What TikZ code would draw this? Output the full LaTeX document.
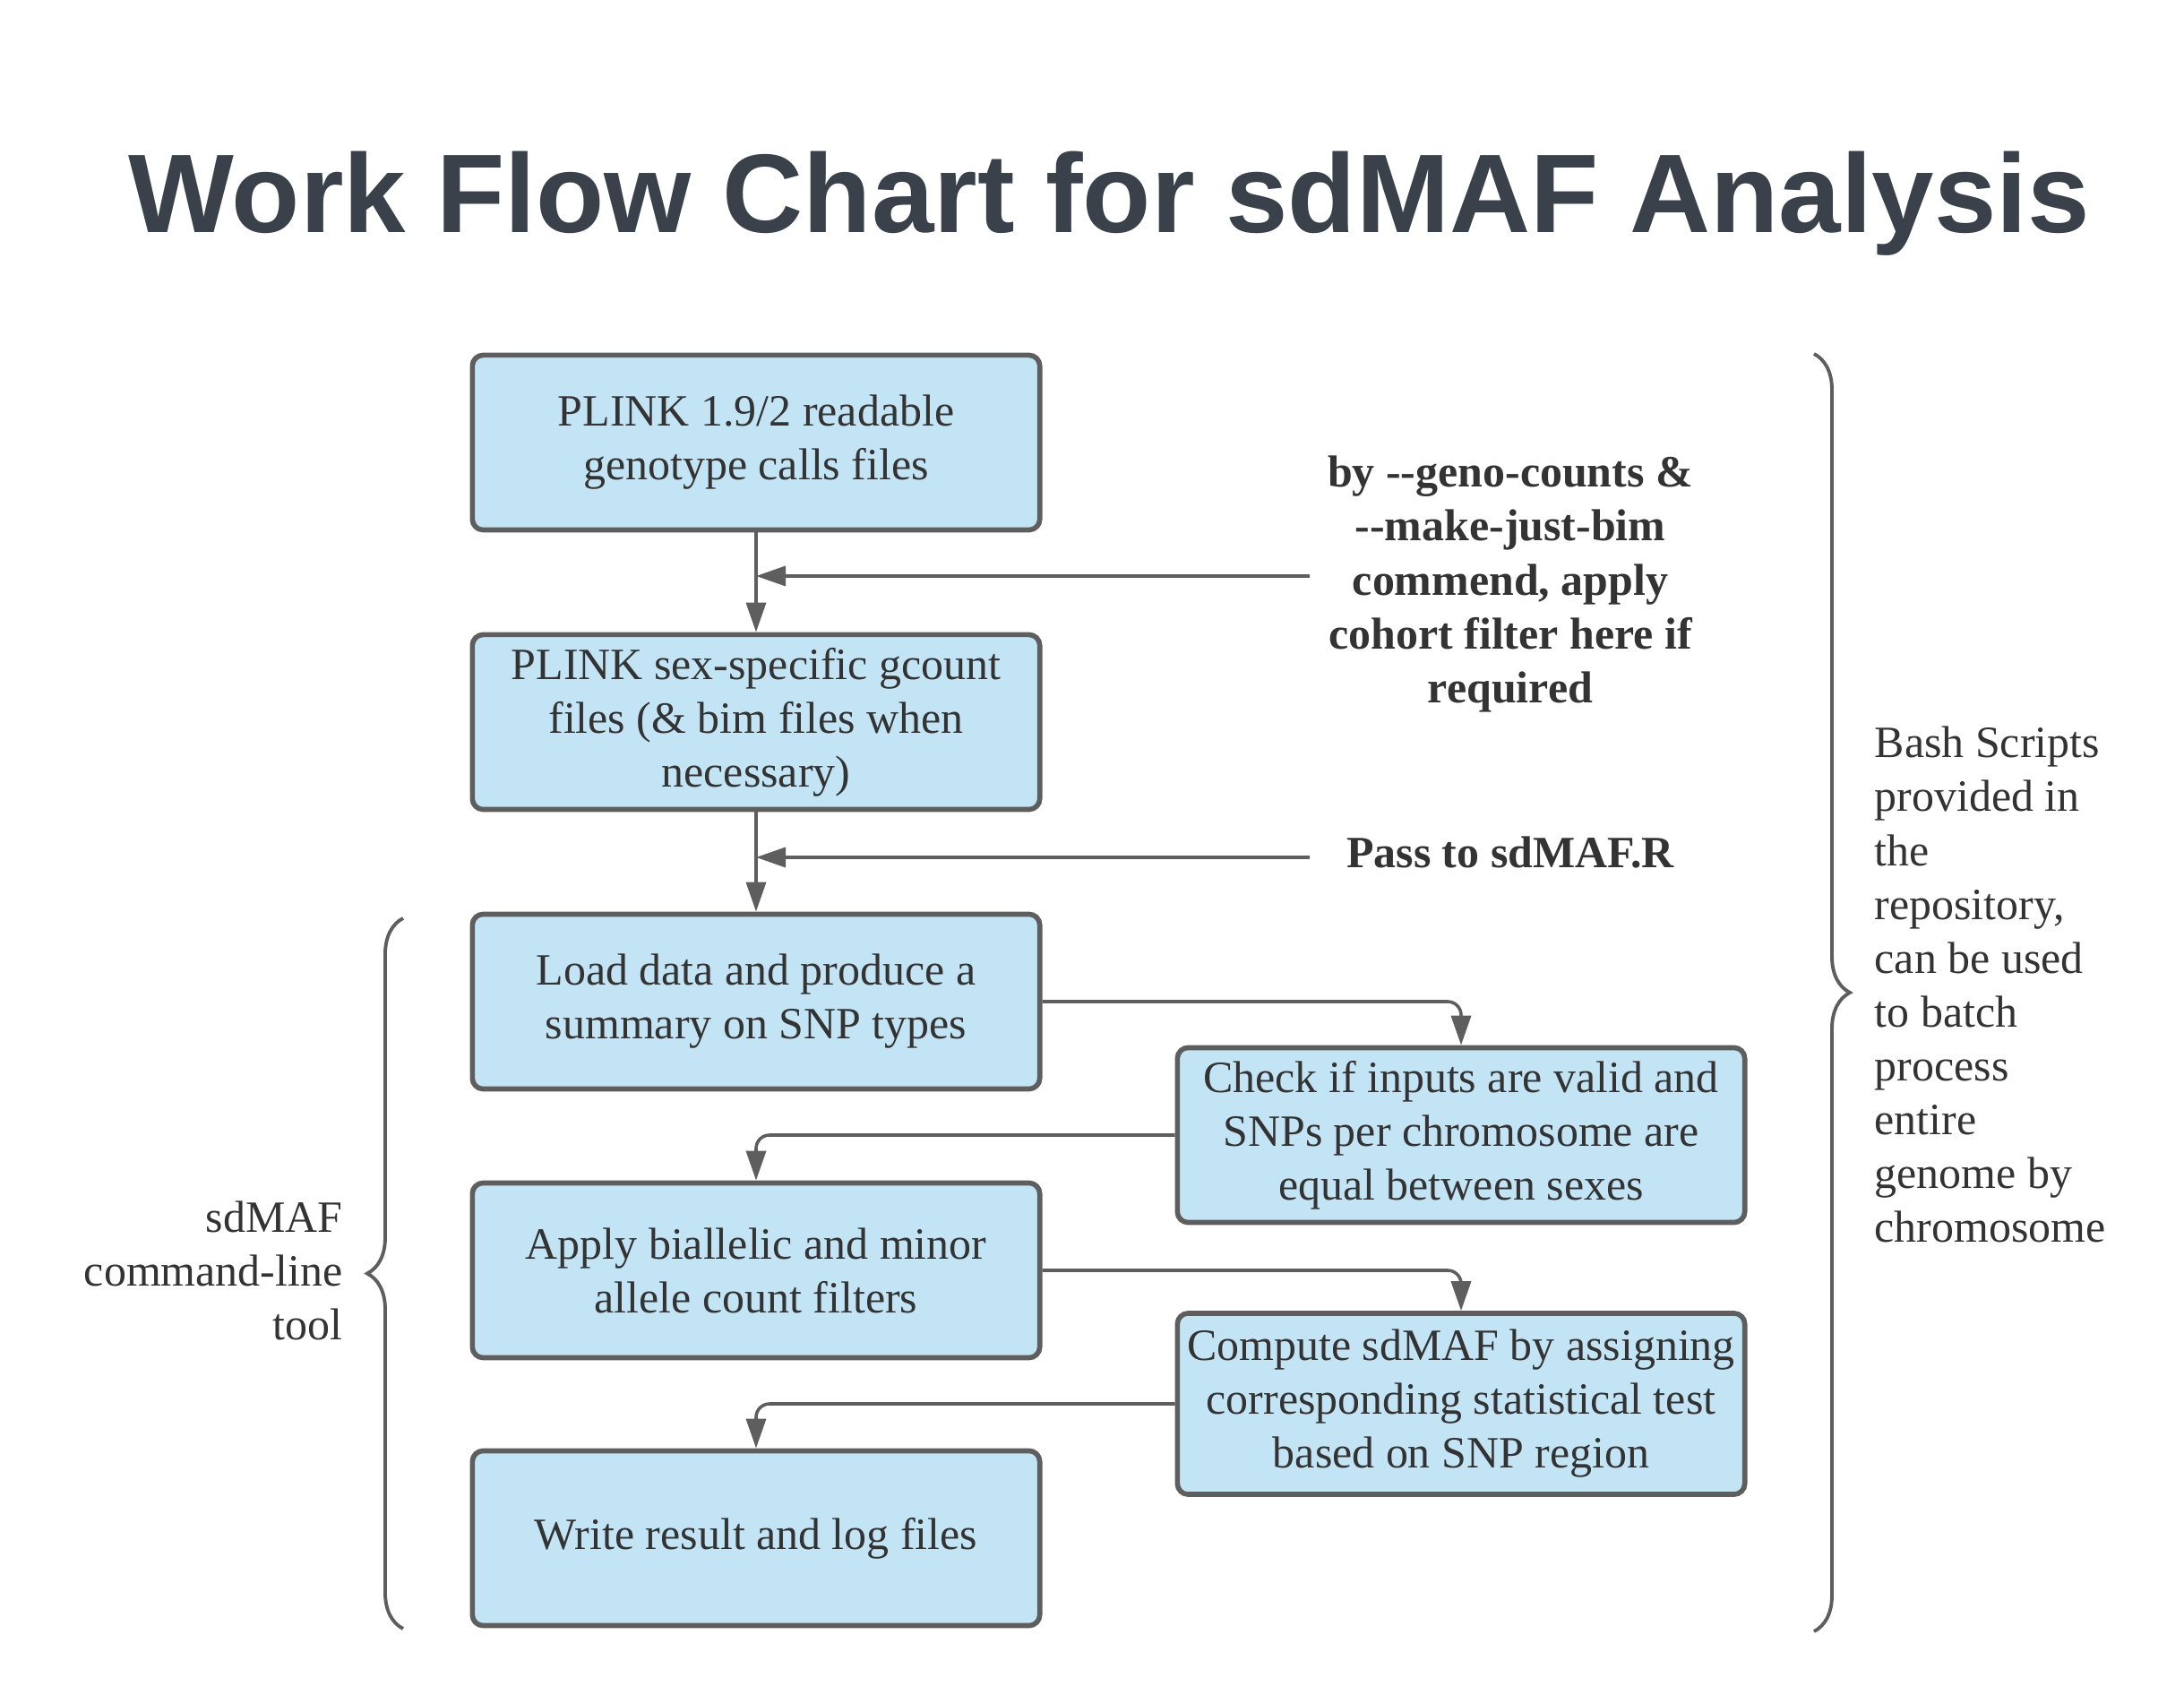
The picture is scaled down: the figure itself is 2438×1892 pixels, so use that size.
\documentclass[tikz,border=0pt]{standalone}
\usepackage{fontspec}
\setmainfont{Liberation Serif}
\newfontfamily\titlefont{Liberation Sans}
\usetikzlibrary{arrows.meta,decorations.pathreplacing}
\definecolor{boxblue}{RGB}{194,228,245}
\definecolor{edgegray}{RGB}{94,94,94}
\definecolor{inkgray}{RGB}{51,51,51}
\definecolor{titleslate}{RGB}{58,65,74}
\newcommand{\dblhy}{-\kern0pt-}

\begin{document}
\begin{tikzpicture}[x=0.01cm, y=-0.01cm,
    font=\fontsize{14.2}{17.07}\selectfont, text=inkgray,
    box/.style={draw=edgegray, line width=1.6pt, fill=boxblue, rounded corners=0.12cm,
      minimum width=6.33cm, minimum height=1.95cm, align=center, inner sep=0pt},
    conn/.style={draw=edgegray, line width=1pt, rounded corners=0.15cm,
      -{Triangle[length=0.33cm,width=0.22cm]}},
    note/.style={font=\fontsize{14.2}{17.07}\selectfont\bfseries, align=center},
    curly/.style={draw=edgegray, line width=1.1pt, decorate, decoration={brace, amplitude=0.4cm}}]
        \fill[white] (0,0) rectangle (2438,1892);
        \useasboundingbox (0,0) rectangle (2438,1892);

        \node[font=\titlefont\bfseries\fontsize{35.5}{42}\selectfont, text=titleslate, anchor=base] (title) at (1238,260) {Work Flow Chart for sdMAF Analysis};

        \node[box] (b1) at (844,494) {PLINK 1.9/2 readable\\ genotype calls files};
        \node[box] (b2) at (844,806) {PLINK sex-specific gcount\\ files (\& bim files when\\ necessary)};
        \node[box] (b3) at (844,1118) {Load data and produce a\\ summary on SNP types};
        \node[box] (b4) at (1631,1267) {Check if inputs are valid and\\ SNPs per chromosome are\\ equal between sexes};
        \node[box] (b5) at (844,1418) {Apply biallelic and minor\\ allele count filters};
        \node[box, minimum height=2.02cm] (b6) at (1631,1567) {Compute sdMAF by assigning\\ corresponding statistical test\\ based on SNP region};
        \node[box] (b7) at (844,1717) {Write result and log files};

        \node[note] (n1) at (1686,652) {by \dblhy geno-counts \&\\ \dblhy make-just-bim\\ commend, apply\\ cohort filter here if\\ required};
        \node[note] (n2) at (1686,952) {Pass to sdMAF.R};
        \coordinate (in1) at (1462,643);
        \coordinate (in2) at (1462,957);

        \foreach \a/\b in {b1/b2, b2/b3}{
          \draw[conn] (\a) -- (\b);
        }
        \foreach \c/\b in {in1/b1, in2/b2}{
          \draw[conn] (\c) -- (\c -| \b);
        }
        \foreach \a/\b in {b3/b4, b4/b5, b5/b6, b6/b7}{
          \draw[conn] (\a) -| (\b);
        }

        % braces
        \draw[curly] (450,1818) -- (450,1025);
        \draw[curly] (2025,395) -- (2025,1821);
        \node[anchor=east, align=right, inner sep=0pt] (cli) at (383,1418) {sdMAF\\ command-line\\ tool};
        \node[anchor=west, align=left, inner sep=0pt] (bash) at (2092,1099) {Bash Scripts\\ provided in\\ the\\ repository,\\ can be used\\ to batch\\ process\\ entire\\ genome by\\ chromosome};
\end{tikzpicture}
\end{document}
